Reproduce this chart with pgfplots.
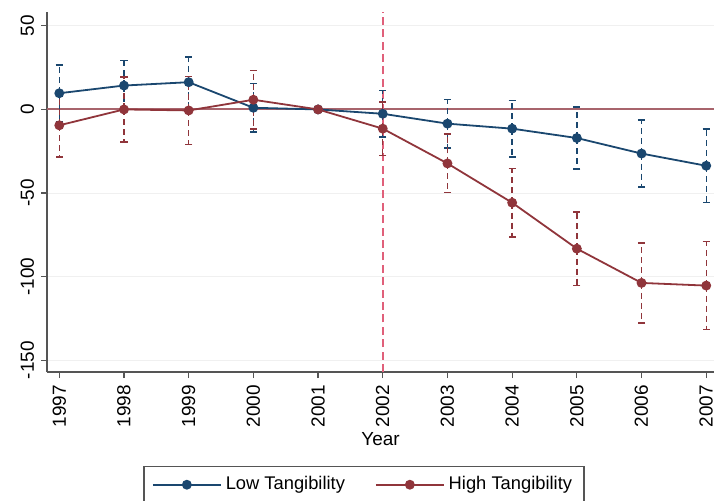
\documentclass[border=0pt]{standalone}
\usepackage{pgfplots}
\pgfplotsset{compat=1.18}
\usepackage{fontspec}
\setmainfont{Liberation Sans}

\definecolor{lowc}{HTML}{1A476F}
\definecolor{highc}{HTML}{90353B}
\definecolor{zeroc}{HTML}{A8646C}
\definecolor{vlinec}{HTML}{E0607A}
\definecolor{axc}{HTML}{555555}

\pgfplotstableread{
year  y      e
1997  9.7    17
1998  14.3   15
1999  16.3   15
2000  1.0    14.5
2001  0      0
2002  -2.6   14
2003  -8.5   14.6
2004  -11.5  17
2005  -17.1  18.5
2006  -26.4  20
2007  -33.7  22
}\lowtab

\pgfplotstableread{
year  y      e
1997  -9.5   19
1998  0      19.5
1999  -0.6   20.2
2000  5.8    17.5
2001  0      0
2002  -11.5  16
2003  -32.3  17.5
2004  -55.8  20.5
2005  -83.3  21.9
2006  -103.8 24
2007  -105.4 26.3
}\hightab

\begin{document}
\begin{tikzpicture}
\begin{axis}[
    name=ax,
    scale only axis,
    width=333.5bp, height=180bp,
    xmin=1996.81, xmax=2007.12,
    ymin=-157.1, ymax=58.3,
    axis lines*=left,
    axis line style={axc, line width=0.75bp},
    xtick={1997,...,2007},
    ytick={-150,-100,-50,0,50},
    x tick label style={/pgf/number format/1000 sep={}},
    xticklabel style={rotate=90, anchor=east},
    yticklabel style={rotate=90, anchor=south},
    tick align=outside,
    major tick length=3bp,
    tick style={axc, line width=0.6bp},
    ymajorgrids=true,
    grid style={gray!12, line width=0.5bp},
    font=\fontsize{9.5}{11}\selectfont,
    /pgf/number format/assume math mode=true,
    xlabel={Year},
    xlabel style={yshift=4bp},
    legend style={at={(0.5,0)}, anchor=north, xshift=-8.25bp, yshift=-47bp,
        draw=axc, line width=0.6bp, legend columns=2,
        font=\fontsize{9.2}{11}\selectfont,
        inner xsep=4bp, inner ysep=3bp,
        /tikz/every even column/.append style={column sep=13bp}},
    legend cell align=left,
    legend image code/.code={
        \draw[mark repeat=2, mark phase=2] plot coordinates {(0bp,0bp) (17bp,0bp) (34bp,0bp)};
    },
    clip=false,
]
\addplot[zeroc, line width=1bp, forget plot] coordinates {(1996.81,0) (2007.12,0)};
\addplot[vlinec, line width=0.9bp, dash pattern=on 4bp off 2.2bp, forget plot] coordinates {(2002,-157.1) (2002,58.3)};

\addplot[lowc, line width=0.9bp, mark=*, mark size=2bp,
    mark options={solid, fill=lowc},
    error bars/.cd, y dir=both, y explicit,
    error mark=-, error mark options={lowc, line width=0.7bp, mark size=1.8bp, rotate=90},
    error bar style={lowc, line width=0.7bp, dash pattern=on 3bp off 2bp}]
    table[x=year, y=y, y error=e] {\lowtab};
\addlegendentry{Low Tangibility}

\addplot[highc, line width=0.9bp, mark=*, mark size=2bp,
    mark options={solid, fill=highc},
    error bars/.cd, y dir=both, y explicit,
    error mark=-, error mark options={highc, line width=0.7bp, mark size=1.8bp, rotate=90},
    error bar style={highc, line width=0.7bp, dash pattern=on 3bp off 2bp}]
    table[x=year, y=y, y error=e] {\hightab};
\addlegendentry{High Tangibility}
\end{axis}
\pgfresetboundingbox
\useasboundingbox ([xshift=-23.5bp, yshift=-64.5bp]ax.south west) rectangle ([yshift=6bp]ax.north east);
\end{tikzpicture}
\end{document}
